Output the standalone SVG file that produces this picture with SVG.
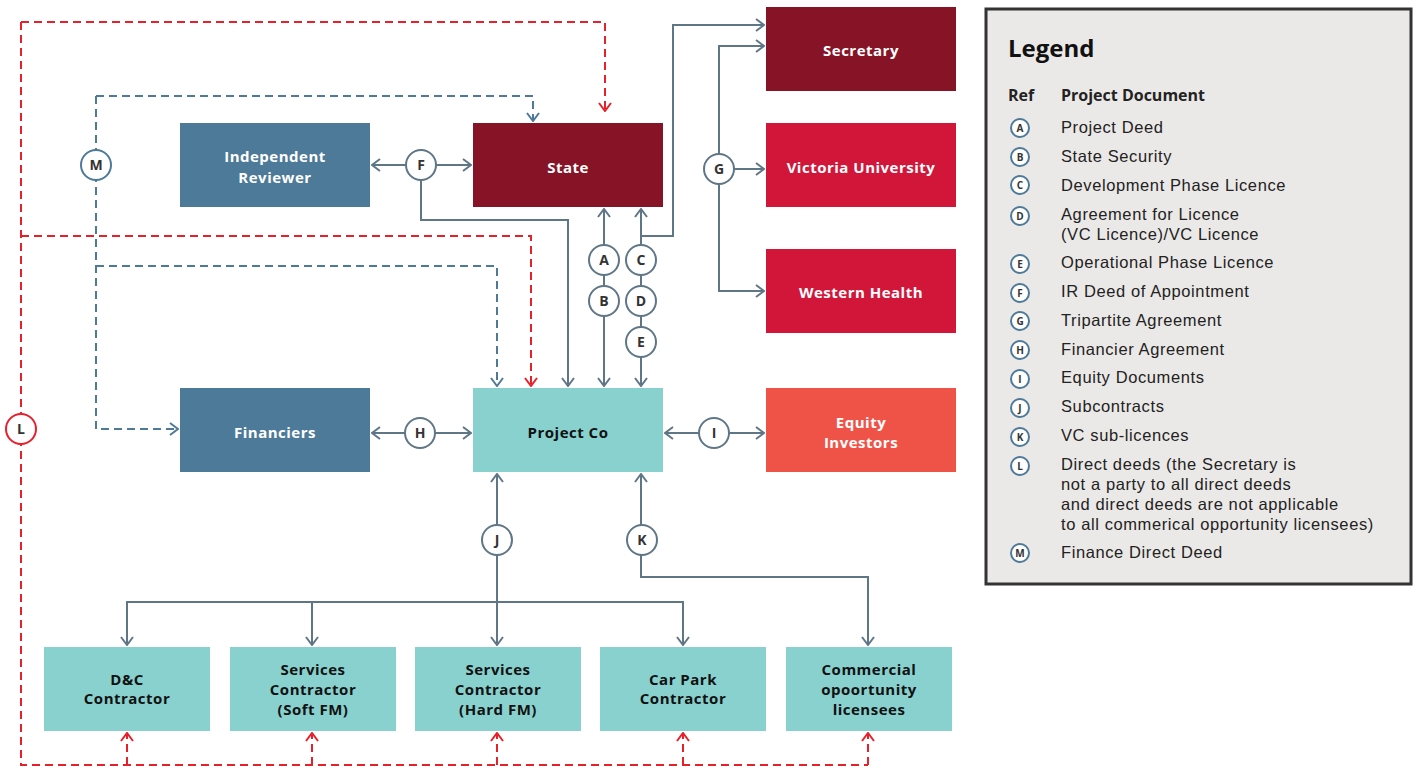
<svg xmlns="http://www.w3.org/2000/svg" width="1418" height="767" viewBox="0 0 1418 767">
<defs>
<style>
.nl{font-family:"Open Sans","Liberation Sans",sans-serif;font-weight:700;font-size:15px;letter-spacing:0.5px;text-anchor:middle}
.w{fill:#ffffff}.k{fill:#111111}
.sol{fill:none;stroke:#5f7687;stroke-width:2}
.bd{fill:none;stroke:#4d7a98;stroke-width:2;stroke-dasharray:8 5}
.rd{fill:none;stroke:#e8202a;stroke-width:2;stroke-dasharray:8 5}
.c{fill:#ffffff;stroke:#5f7687;stroke-width:2}
.cr{fill:#ffffff;stroke:#e8202a;stroke-width:2}
.cb{fill:#ffffff;stroke:#4d7a98;stroke-width:2}
.cl{font-family:"Open Sans","Liberation Sans",sans-serif;font-weight:700;font-size:14px;fill:#333333;text-anchor:middle}
.lt{font-family:"Liberation Sans",Arial,sans-serif;font-size:16.5px;letter-spacing:0.6px;fill:#222222}
.lh{font-family:"Open Sans","Liberation Sans",sans-serif;font-size:16px;font-weight:700;fill:#222222}
.lc{fill:#ffffff;stroke:#4d7a98;stroke-width:2}
.ll{font-family:"Open Sans","Liberation Sans",sans-serif;font-weight:700;font-size:10px;fill:#333333;text-anchor:middle}
</style>
<marker id="ag" viewBox="0 0 10 14" refX="9" refY="7" markerWidth="10" markerHeight="14" markerUnits="userSpaceOnUse" orient="auto-start-reverse"><path d="M1,1 L9,7 L1,13" fill="none" stroke="#5f7687" stroke-width="2"/></marker>
<marker id="ab" viewBox="0 0 10 14" refX="9" refY="7" markerWidth="10" markerHeight="14" markerUnits="userSpaceOnUse" orient="auto-start-reverse"><path d="M1,1 L9,7 L1,13" fill="none" stroke="#4d7a98" stroke-width="2"/></marker>
<marker id="ar" viewBox="0 0 10 14" refX="9" refY="7" markerWidth="10" markerHeight="14" markerUnits="userSpaceOnUse" orient="auto-start-reverse"><path d="M1,1 L9,7 L1,13" fill="none" stroke="#e8202a" stroke-width="2"/></marker>
</defs>
<rect width="1418" height="767" fill="#ffffff"/>

<g id="connectors">
<path class="rd" d="M21,22 H605 V111" marker-end="url(#ar)"/>
<path class="rd" d="M21,236 H531 V386" marker-end="url(#ar)"/>
<path class="rd" d="M21,22 V765 H868"/>
<path class="rd" d="M127,765 V733" marker-end="url(#ar)"/>
<path class="rd" d="M312,765 V733" marker-end="url(#ar)"/>
<path class="rd" d="M497,765 V733" marker-end="url(#ar)"/>
<path class="rd" d="M683,765 V733" marker-end="url(#ar)"/>
<path class="rd" d="M868,765 V733" marker-end="url(#ar)"/>
<path class="bd" d="M96,96 H533 V121" marker-end="url(#ab)"/>
<path class="bd" d="M96,96 V429 H178" marker-end="url(#ab)"/>
<path class="bd" d="M96,266 H497 V386" marker-end="url(#ab)"/>
<path class="sol" d="M372,165 H471" marker-start="url(#ag)" marker-end="url(#ag)"/>
<path class="sol" d="M421,165 V220 H568 V386" marker-end="url(#ag)"/>
<path class="sol" d="M604,386 V209" marker-start="url(#ag)" marker-end="url(#ag)"/>
<path class="sol" d="M641,386 V209" marker-start="url(#ag)" marker-end="url(#ag)"/>
<path class="sol" d="M641,236 H673 V25 H764" marker-end="url(#ag)"/>
<path class="sol" d="M764,46 H719 V291 H764" marker-start="url(#ag)" marker-end="url(#ag)"/>
<path class="sol" d="M719,169 H764" marker-end="url(#ag)"/>
<path class="sol" d="M372,433 H471" marker-start="url(#ag)" marker-end="url(#ag)"/>
<path class="sol" d="M665,433 H764" marker-start="url(#ag)" marker-end="url(#ag)"/>
<path class="sol" d="M497,474 V645" marker-start="url(#ag)" marker-end="url(#ag)"/>
<path class="sol" d="M127,645 V602 H683 V645" marker-start="url(#ag)" marker-end="url(#ag)"/>
<path class="sol" d="M312,602 V645" marker-end="url(#ag)"/>
<path class="sol" d="M641,474 V577 H868 V645" marker-start="url(#ag)" marker-end="url(#ag)"/>
<circle class="c" cx="421" cy="165" r="15"/><text class="cl" x="421" y="170">F</text>
<circle class="cb" cx="96" cy="165" r="15"/><text class="cl" x="96" y="170">M</text>
<circle class="c" cx="604" cy="260" r="15"/><text class="cl" x="604" y="265">A</text>
<circle class="c" cx="604" cy="301" r="15"/><text class="cl" x="604" y="306">B</text>
<circle class="c" cx="641" cy="260" r="15"/><text class="cl" x="641" y="265">C</text>
<circle class="c" cx="641" cy="301" r="15"/><text class="cl" x="641" y="306">D</text>
<circle class="c" cx="641" cy="342" r="15"/><text class="cl" x="641" y="347">E</text>
<circle class="c" cx="719" cy="169" r="15"/><text class="cl" x="719" y="174">G</text>
<circle class="c" cx="420" cy="433" r="15"/><text class="cl" x="420" y="438">H</text>
<circle class="c" cx="714" cy="433" r="15"/><text class="cl" x="714" y="438">I</text>
<circle class="c" cx="497" cy="540" r="15"/><text class="cl" x="497" y="545">J</text>
<circle class="c" cx="642" cy="540" r="15"/><text class="cl" x="642" y="545">K</text>
<circle class="cr" cx="21" cy="429" r="15"/><text class="cl" x="21" y="434">L</text>
</g>

<g id="independent-reviewer"><rect x="180" y="123" width="190" height="84" fill="#4d7a98"/><text class="nl w" x="275" y="162">Independent</text><text class="nl w" x="275" y="183">Reviewer</text></g>
<g id="state"><rect x="473" y="123" width="190" height="84" fill="#861426"/><text class="nl w" x="568" y="173">State</text></g>
<g id="secretary"><rect x="766" y="7" width="190" height="84" fill="#861426"/><text class="nl w" x="861" y="56">Secretary</text></g>
<g id="victoria-university"><rect x="766" y="123" width="190" height="84" fill="#d2163a"/><text class="nl w" x="861" y="173">Victoria University</text></g>
<g id="western-health"><rect x="766" y="249" width="190" height="84" fill="#d2163a"/><text class="nl w" x="861" y="298">Western Health</text></g>
<g id="financiers"><rect x="180" y="388" width="190" height="84" fill="#4d7a98"/><text class="nl w" x="275" y="438">Financiers</text></g>
<g id="project-co"><rect x="473" y="388" width="190" height="84" fill="#88d1cf"/><text class="nl k" x="568" y="438">Project Co</text></g>
<g id="equity-investors"><rect x="766" y="388" width="190" height="84" fill="#ef5348"/><text class="nl w" x="861" y="428">Equity</text><text class="nl w" x="861" y="448">Investors</text></g>
<g id="dc-contractor"><rect x="44" y="647" width="166" height="84" fill="#88d1cf"/><text class="nl k" x="127" y="685">D&amp;C</text><text class="nl k" x="127" y="704">Contractor</text></g>
<g id="services-soft"><rect x="230" y="647" width="166" height="84" fill="#88d1cf"/><text class="nl k" x="313" y="675">Services</text><text class="nl k" x="313" y="695">Contractor</text><text class="nl k" x="313" y="715">(Soft FM)</text></g>
<g id="services-hard"><rect x="415" y="647" width="166" height="84" fill="#88d1cf"/><text class="nl k" x="498" y="675">Services</text><text class="nl k" x="498" y="695">Contractor</text><text class="nl k" x="498" y="715">(Hard FM)</text></g>
<g id="car-park"><rect x="600" y="647" width="166" height="84" fill="#88d1cf"/><text class="nl k" x="683" y="685">Car Park</text><text class="nl k" x="683" y="704">Contractor</text></g>
<g id="commercial"><rect x="786" y="647" width="166" height="84" fill="#88d1cf"/><text class="nl k" x="869" y="675">Commercial</text><text class="nl k" x="869" y="695">opoortunity</text><text class="nl k" x="869" y="715">licensees</text></g>

<g id="legend">
<rect x="986" y="9" width="425" height="575" fill="#ebe9e7" stroke="#333333" stroke-width="3"/>
<text x="1008" y="57" font-family="'Open Sans','Liberation Sans',sans-serif" font-weight="700" font-size="24" fill="#111111">Legend</text>
<text class="lh" x="1008" y="101">Ref</text><text class="lh" x="1061" y="101">Project Document</text>
<circle class="lc" cx="1020" cy="128" r="9"/><text class="ll" x="1020" y="131.5">A</text><text class="lt" x="1061" y="133">Project Deed</text>
<circle class="lc" cx="1020" cy="157" r="9"/><text class="ll" x="1020" y="160.5">B</text><text class="lt" x="1061" y="162">State Security</text>
<circle class="lc" cx="1020" cy="185" r="9"/><text class="ll" x="1020" y="188.5">C</text><text class="lt" x="1061" y="191">Development Phase Licence</text>
<circle class="lc" cx="1020" cy="216" r="9"/><text class="ll" x="1020" y="219.5">D</text><text class="lt" x="1061" y="220">Agreement for Licence</text><text class="lt" x="1061" y="240">(VC Licence)/VC Licence</text>
<circle class="lc" cx="1020" cy="264" r="9"/><text class="ll" x="1020" y="267.5">E</text><text class="lt" x="1061" y="268">Operational Phase Licence</text>
<circle class="lc" cx="1020" cy="293" r="9"/><text class="ll" x="1020" y="296.5">F</text><text class="lt" x="1061" y="297">IR Deed of Appointment</text>
<circle class="lc" cx="1020" cy="321" r="9"/><text class="ll" x="1020" y="324.5">G</text><text class="lt" x="1061" y="326">Tripartite Agreement</text>
<circle class="lc" cx="1020" cy="350" r="9"/><text class="ll" x="1020" y="353.5">H</text><text class="lt" x="1061" y="355">Financier Agreement</text>
<circle class="lc" cx="1020" cy="379" r="9"/><text class="ll" x="1020" y="382.5">I</text><text class="lt" x="1061" y="383">Equity Documents</text>
<circle class="lc" cx="1020" cy="408" r="9"/><text class="ll" x="1020" y="411.5">J</text><text class="lt" x="1061" y="412">Subcontracts</text>
<circle class="lc" cx="1020" cy="437" r="9"/><text class="ll" x="1020" y="440.5">K</text><text class="lt" x="1061" y="441">VC sub-licences</text>
<circle class="lc" cx="1020" cy="466" r="9"/><text class="ll" x="1020" y="469.5">L</text><text class="lt" x="1061" y="470">Direct deeds (the Secretary is</text><text class="lt" x="1061" y="490">not a party to all direct deeds</text><text class="lt" x="1061" y="510">and direct deeds are not applicable</text><text class="lt" x="1061" y="530">to all commerical opportunity licensees)</text>
<circle class="lc" cx="1020" cy="553" r="9"/><text class="ll" x="1020" y="556.5">M</text><text class="lt" x="1061" y="558">Finance Direct Deed</text>
</g>
</svg>
